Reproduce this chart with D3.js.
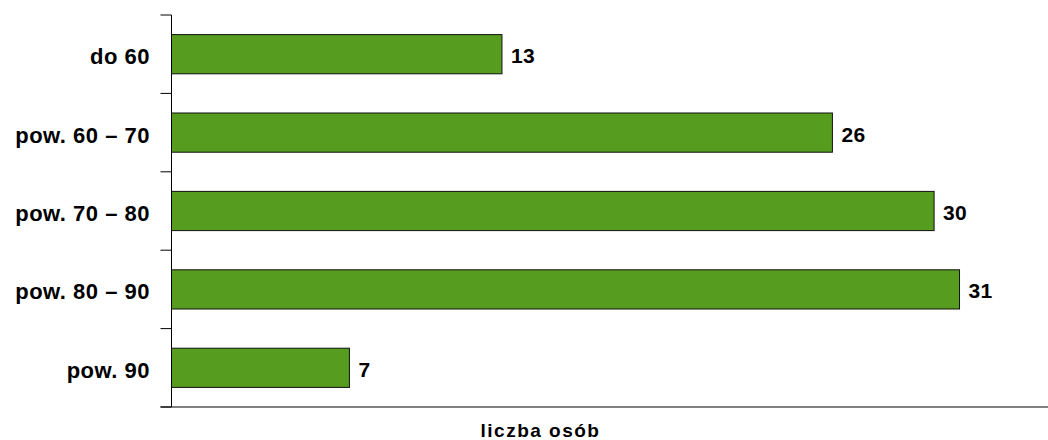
<!DOCTYPE html>
<html>
<head>
<meta charset="utf-8">
<script src="https://cdn.jsdelivr.net/npm/d3@7"></script>
<style>
  html, body { margin: 0; padding: 0; background: #fff; }
  svg { display: block; }
  text { font-family: "Liberation Sans", Arial, sans-serif; font-weight: bold; fill: #000; }
</style>
</head>
<body>
<svg id="chart" width="1048" height="440"></svg>
<script>
const categories = ["do 60", "pow. 60 – 70", "pow. 70 – 80", "pow. 80 – 90", "pow. 90"];
const values = [13, 26, 30, 31, 7];
const axisTitle = "liczba osób";

(function () {
const W = 1048;
const mLeft = 171.5, mTop = 15, mBottom = 407;
const svg = d3.select("#chart");

const x = d3.scaleLinear().domain([0, 35]).range([mLeft, mLeft + 35 * 25.42]);
const y = d3.scaleBand().domain(categories).range([mTop, mBottom]).paddingInner(0.5).paddingOuter(0.25);
const yb = d3.scaleBand().domain(categories).range([mTop, mBottom]);

// bars
svg.selectAll("rect.bar").data(values).join("rect")
  .attr("class", "bar")
  .attr("x", x(0))
  .attr("y", (d, i) => y(categories[i]))
  .attr("width", d => x(d) - x(0))
  .attr("height", y.bandwidth())
  .attr("fill", "#569c1f")
  .attr("stroke", "#111")
  .attr("stroke-width", 1);

// value labels
svg.selectAll("text.val").data(values).join("text")
  .attr("class", "val")
  .attr("x", d => x(d) + 9)
  .attr("y", (d, i) => y(categories[i]) + y.bandwidth() / 2 + 9)
  .attr("font-size", 21)
  .attr("letter-spacing", 0.3)
  .text(d => d);

// left axis
const gy = svg.append("g");
gy.append("line").attr("x1", mLeft).attr("x2", mLeft).attr("y1", mTop).attr("y2", mBottom)
  .attr("stroke", "#000").attr("stroke-width", 1);
const boundaries = categories.map(c => yb(c)).concat([mBottom]);
gy.selectAll("line.tick").data(boundaries).join("line")
  .attr("class", "tick")
  .attr("x1", mLeft - 11).attr("x2", mLeft)
  .attr("y1", d => d).attr("y2", d => d)
  .attr("stroke", "#000").attr("stroke-width", 1);
gy.selectAll("text.cat").data(categories).join("text")
  .attr("class", "cat")
  .attr("x", 150)
  .attr("y", d => yb(d) + yb.bandwidth() / 2 + 10)
  .attr("text-anchor", "end")
  .attr("font-size", 22)
  .attr("letter-spacing", 0.5)
  .text(d => d);

// bottom axis
svg.append("line").attr("x1", mLeft - 11).attr("x2", W).attr("y1", mBottom).attr("y2", mBottom)
  .attr("stroke", "#000").attr("stroke-width", 1);

svg.append("text")
  .attr("x", 540.5).attr("y", 436.5)
  .attr("text-anchor", "middle")
  .attr("font-size", 19)
  .attr("letter-spacing", 1.5)
  .text(axisTitle);
})();
</script>
</body>
</html>
